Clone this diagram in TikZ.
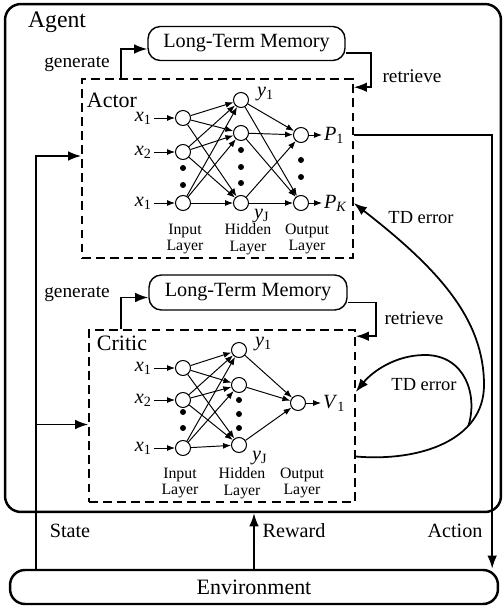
\documentclass[tikz,border=0pt]{standalone}
\usepackage{fontspec}
\setmainfont{Liberation Serif}
\usetikzlibrary{positioning,arrows.meta,calc}

\newcommand{\nvar}[2]{\textit{#1}\textsubscript{\upshape #2}}

\begin{document}
\begin{tikzpicture}[
    x=0.02cm, y=-0.02cm,
    neuron/.style={circle, draw, line width=0.6pt, minimum size=0.3cm, inner sep=0pt},
    dotnode/.style={circle, fill, inner sep=0pt, minimum size=3.4pt},
    synapse/.style={-{Latex[length=4.5pt,width=3.4pt]}, line width=0.55pt},
    signal/.style={-{Latex[length=7.5pt,width=5.5pt]}, line width=1pt},
    panel/.style={draw, dash pattern=on 5pt off 3pt, line width=0.9pt, inner sep=0pt},
    memory/.style={draw, rounded corners=7pt, line width=0.8pt, minimum width=3.94cm,
      minimum height=0.68cm, inner sep=0pt, font=\fontsize{11.5}{13}\selectfont},
    layertext/.style={align=center, font=\fontsize{9}{9.6}\selectfont, inner sep=0pt},
    ioname/.style={inner sep=1pt, font=\fontsize{11.5}{13}\selectfont},
    note/.style={inner sep=0pt, font=\fontsize{11}{13}\selectfont},
    heading/.style={inner sep=0pt, font=\fontsize{12.5}{15}\selectfont},
  ]
  \useasboundingbox (0,0) rectangle (503,611);

  % Frames
  \node[draw, rounded corners=9pt, line width=1.4pt, minimum width=9.92cm,
    minimum height=10.16cm] (agent) at (253,258) {};
  \node[inner sep=0pt, font=\fontsize{13.5}{16}\selectfont] (agent-tag) at (57,22) {Agent};
  \node[draw, rounded corners=8.5pt, line width=1.4pt, minimum width=9.76cm,
    minimum height=0.68cm, font=\fontsize{12.5}{15}\selectfont] (env) at (254,587) {Environment};

  \node[panel, minimum width=5.42cm, minimum height=3.58cm] (actor) at (217.5,168.5) {};
  \node[heading] (actor-tag) at (112,100) {Actor};
  \node[panel, minimum width=5.32cm, minimum height=3.44cm] (critic) at (222,416) {};
  \node[heading] (critic-tag) at (122,343) {Critic};

  \node[memory] (a-mem) at (246.5,43.5) {Long-Term Memory};
  \node[memory, minimum width=3.96cm, minimum height=0.7cm] (c-mem) at (248,292.5) {Long-Term Memory};

  % Actor network
  \foreach \i/\y in {1/118,2/152,3/203} \node[neuron] (a-in\i) at (183,\y) {};
  \foreach \i/\y in {1/100,2/133,3/203} \node[neuron] (a-hid\i) at (241,\y) {};
  \foreach \i/\y in {1/135,2/203} \node[neuron] (a-out\i) at (301,\y) {};
  \foreach \y in {168,185} \node[dotnode] (a-din\y) at (183,\y) {};
  \foreach \y in {150,167,183} \node[dotnode] (a-dhid\y) at (241,\y) {};
  \foreach \y in {160,177} \node[dotnode] (a-dout\y) at (301,\y) {};

  \foreach \i in {1,2,3} {
    \foreach \j in {1,2,3} \draw[synapse] (a-in\i) -- (a-hid\j);
    \foreach \k in {1,2} \draw[synapse] (a-hid\i) -- (a-out\k);
  }

  \node[ioname, left=0.42cm of a-in1] (a-x1) {\nvar{x}{1}};
  \node[ioname, left=0.42cm of a-in2] (a-x2) {\nvar{x}{2}};
  \node[ioname, left=0.42cm of a-in3] (a-x3) {\nvar{x}{1}};
  \foreach \i in {1,2,3} \draw[synapse] (a-x\i) -- (a-in\i);
  \node[ioname, right=0.26cm of a-out1] (a-p1) {\nvar{P}{1}};
  \node[ioname, right=0.26cm of a-out2] (a-pk) {\nvar{P}{\textit{K}}};
  \draw[synapse] (a-out1) -- (a-p1);
  \draw[synapse] (a-out2) -- (a-pk);
  \node[ioname, anchor=west, inner sep=0pt] (a-y1) at ([xshift=0.2cm]a-hid1.north east) {\nvar{y}{1}};
  \node[ioname, anchor=north west, inner sep=0pt] (a-yj) at ([xshift=0.14cm]a-hid3.south east) {\nvar{y}{J}};

  \node[layertext] (a-lin) at (185,239) {Input\\Layer};
  \node[layertext] (a-lhid) at (248,239) {Hidden\\Layer};
  \node[layertext] (a-lout) at (307,239) {Output\\Layer};

  % Critic network
  \foreach \i/\y in {1/368,2/400,3/448} \node[neuron] (c-in\i) at (183,\y) {};
  \foreach \i/\y in {1/350,2/385,3/445} \node[neuron] (c-hid\i) at (239,\y) {};
  \node[neuron] (c-out1) at (298,403) {};
  \foreach \y in {412,428} \node[dotnode] (c-din\y) at (183,\y) {};
  \foreach \y in {400,414,428} \node[dotnode] (c-dhid\y) at (239,\y) {};

  \foreach \i in {1,2,3} {
    \foreach \j in {1,2,3} \draw[synapse] (c-in\i) -- (c-hid\j);
    \draw[synapse] (c-hid\i) -- (c-out1);
  }

  \node[ioname, left=0.42cm of c-in1] (c-x1) {\nvar{x}{1}};
  \node[ioname, left=0.42cm of c-in2] (c-x2) {\nvar{x}{2}};
  \node[ioname, left=0.42cm of c-in3] (c-x3) {\nvar{x}{1}};
  \foreach \i in {1,2,3} \draw[synapse] (c-x\i) -- (c-in\i);
  \node[ioname, right=0.3cm of c-out1] (c-v1) {\nvar{V}{1}};
  \draw[synapse] (c-out1) -- (c-v1);
  \node[ioname, anchor=west, inner sep=0pt] (c-y1) at ([xshift=0.2cm]c-hid1.north east) {\nvar{y}{1}};
  \node[ioname, anchor=north west, inner sep=0pt] (c-yj) at ([xshift=0.14cm]c-hid3.south east) {\nvar{y}{J}};

  \node[layertext] (c-lin) at (180,483) {Input\\Layer};
  \node[layertext] (c-lhid) at (242,483) {Hidden\\Layer};
  \node[layertext] (c-lout) at (302,483) {Output\\Layer};

  % Memory loops
  \draw[signal] ([xshift=0.8cm]actor.north west) |- ([yshift=-0.11cm]a-mem.west);
  \draw[signal] ([yshift=-0.19cm]a-mem.east) -- ++(25,0) |- ([yshift=-0.18cm]actor.north east);
  \node[note] (a-gen) at (77,64) {generate};
  \node[note] (a-ret) at (412,76) {retrieve};

  \draw[signal] ([xshift=0.66cm]critic.north west) |- ([yshift=-0.1cm]c-mem.west);
  \draw[signal] ([yshift=-0.2cm]c-mem.east) -- ++(28,0) |- ([yshift=-0.14cm]critic.north east);
  \node[note] (c-gen) at (77,294) {generate};
  \node[note] (c-ret) at (414,318) {retrieve};

  % State, reward, action
  \draw[signal] ([xshift=0.54cm]env.north west) |- ([yshift=0.25cm]actor.west);
  \draw[signal] ([xshift=0.54cm]env.north west) |- ([yshift=-0.17cm]critic.west);
  \draw[signal] (env.north) -- (env.north |- agent.south);
  \draw[signal] (actor.east |- a-out1) -| ([xshift=-0.14cm]env.north east);
  \node[note, font=\fontsize{11.5}{13}\selectfont] (state) at (70,531) {State};
  \node[note, font=\fontsize{11.5}{13}\selectfont] (reward) at (294,531) {Reward};
  \node[note, font=\fontsize{11.5}{13}\selectfont] (action) at (455,531) {Action};

  % TD error
  \draw[signal] ([yshift=-0.81cm]critic.east) .. controls (420,462) and (484,440) .. (484,385)
    coordinate[pos=0.7] (td-fork)
    .. controls (484,320) and (440,270) .. (actor.east |- a-out2);
  \draw[signal] (td-fork) .. controls (478,395) and (465,355) .. (425,355)
    .. controls (395,355) and (372,372) .. ([yshift=0.48cm]critic.east);
  \node[note, font=\fontsize{10.5}{12}\selectfont] (td-a) at (421,218) {TD error};
  \node[note, font=\fontsize{10.5}{12}\selectfont] (td-c) at (424,385) {TD error};
\end{tikzpicture}
\end{document}
